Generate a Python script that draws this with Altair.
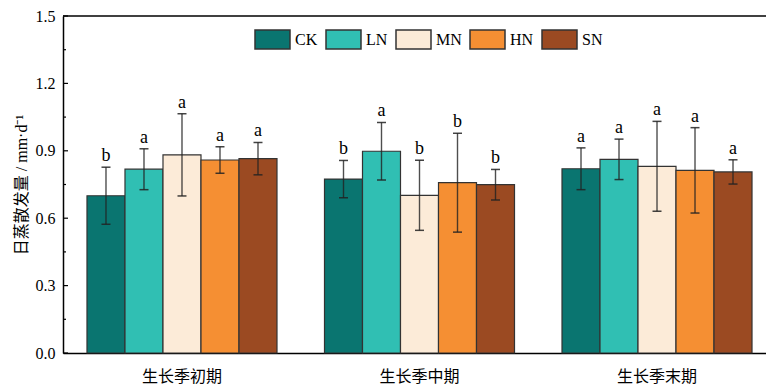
import altair as alt
import pandas as pd

# Growth stages (x groups) and nitrogen treatments (bars within a group)
stages = ["生长季初期", "生长季中期", "生长季末期"]
treatments = ["CK", "LN", "MN", "HN", "SN"]
colors = ["#0a7570", "#30bfb3", "#fcebd8", "#f58f33", "#9b4a22"]

# Daily evapotranspiration mean, standard deviation and significance letters
mean_early = [0.700, 0.818, 0.882, 0.859, 0.865]
sd_early = [0.127, 0.091, 0.183, 0.059, 0.072]
sig_early = ["b", "a", "a", "a", "a"]

mean_mid = [0.774, 0.898, 0.702, 0.758, 0.749]
sd_mid = [0.083, 0.128, 0.156, 0.220, 0.068]
sig_mid = ["b", "a", "b", "b", "b"]

mean_late = [0.820, 0.862, 0.831, 0.813, 0.806]
sd_late = [0.093, 0.090, 0.200, 0.190, 0.054]
sig_late = ["a", "a", "a", "a", "a"]

major_ticks = [0.0, 0.3, 0.6, 0.9, 1.2, 1.5]
minor_ticks = [0.15, 0.45, 0.75, 1.05, 1.35]

rows = []
for stage, means, sds, sigs in zip(
    stages,
    [mean_early, mean_mid, mean_late],
    [sd_early, sd_mid, sd_late],
    [sig_early, sig_mid, sig_late],
):
    for trt, m, s, g in zip(treatments, means, sds, sigs):
        rows.append({"stage": stage, "trt": trt, "mean": m,
                     "lo": m - s, "hi": m + s, "sig": g})
df = pd.DataFrame(rows)

W, H = 703, 337
SERIF = "Liberation Serif, Noto Sans CJK SC"

yscale = alt.Scale(domain=[0, 1.5], nice=False, zero=True)
xscale = alt.Scale(domain=stages, range=[0, 713], paddingInner=0.2, paddingOuter=0.101)
offscale = alt.Scale(domain=treatments, paddingInner=0, paddingOuter=0)

x_axis = alt.Axis(title=None, labelAngle=0, ticks=False, domainColor="black",
                  domainWidth=1.5, labelFont=SERIF, labelFontSize=16,
                  labelColor="black", labelPadding=15)
y_axis = alt.Axis(values=major_ticks, format=".1f", ticks=False, grid=False,
                  domainColor="black", domainWidth=1.5, labelFont=SERIF,
                  labelFontSize=16, labelColor="black", labelPadding=8,
                  title="日蒸散发量 / mm·d⁻¹", titleFont=SERIF, titleFontSize=16,
                  titleFontWeight="normal", titleColor="black", titlePadding=6)


def xenc():
    return alt.X("stage:N", scale=xscale, sort=stages, axis=x_axis)


def yenc(field):
    return alt.Y(field, scale=yscale, axis=y_axis)


off = alt.XOffset("trt:N", scale=offscale, sort=treatments)

base = alt.Chart(df)

bars = base.mark_bar(stroke="#333333", strokeWidth=1.2).encode(
    x=xenc(),
    xOffset=off,
    y=yenc("mean:Q"),
    fill=alt.Fill(
        "trt:N",
        scale=alt.Scale(domain=treatments, range=colors),
        sort=treatments,
        legend=alt.Legend(
            title=None, orient="none", legendX=191, legendY=5, direction="horizontal",
            columns=5, symbolType="M-1,-0.54H1V0.54H-1Z", symbolSize=1225,
            symbolStrokeColor="#333333", symbolStrokeWidth=1.5, symbolOpacity=1,
            labelFont="Liberation Serif", labelFontSize=16, labelColor="black",
            labelOffset=4, columnPadding=5, padding=0,
        ),
    ),
)

err = base.mark_rule(color="#222222", strokeWidth=1.4, opacity=0.8).encode(
    x=xenc(), xOffset=off, y=yenc("lo:Q"), y2="hi:Q",
)
cap_hi = base.mark_tick(color="#222222", thickness=1.5, size=9, orient="horizontal",
                        opacity=0.85).encode(x=xenc(), xOffset=off, y=yenc("hi:Q"))
cap_lo = base.mark_tick(color="#222222", thickness=1.5, size=9, orient="horizontal",
                        opacity=0.85).encode(x=xenc(), xOffset=off, y=yenc("lo:Q"))
letters = base.mark_text(font="Liberation Serif", fontSize=18, baseline="alphabetic",
                         dy=-6, color="black").encode(
    x=xenc(), xOffset=off, y=yenc("hi:Q"), text="sig:N",
)

# Inward-pointing y ticks
tick_major = alt.Chart(pd.DataFrame({"v": major_ticks})).mark_rule(
    color="black", strokeWidth=1.2).encode(
    y=yenc("v:Q"), x=alt.value(0), x2=alt.value(5))
tick_minor = alt.Chart(pd.DataFrame({"v": minor_ticks})).mark_rule(
    color="black", strokeWidth=1.2).encode(
    y=yenc("v:Q"), x=alt.value(0), x2=alt.value(3))

# Top frame line
frame_top = alt.Chart(pd.DataFrame({"v": [1.5]})).mark_rule(
    color="black", strokeWidth=1.5).encode(
    y=yenc("v:Q"), x=alt.value(0), x2=alt.value(W))

chart = alt.layer(
    bars, err, cap_hi, cap_lo, letters, tick_major, tick_minor, frame_top
).properties(
    width=W, height=H,
    padding={"left": 63, "top": 16, "right": 0, "bottom": 32},
    autosize=alt.AutoSizeParams(type="none"),
    background="white",
).configure_view(stroke=None)

chart.save("out.html", embed_options={"renderer": "svg", "actions": False})
